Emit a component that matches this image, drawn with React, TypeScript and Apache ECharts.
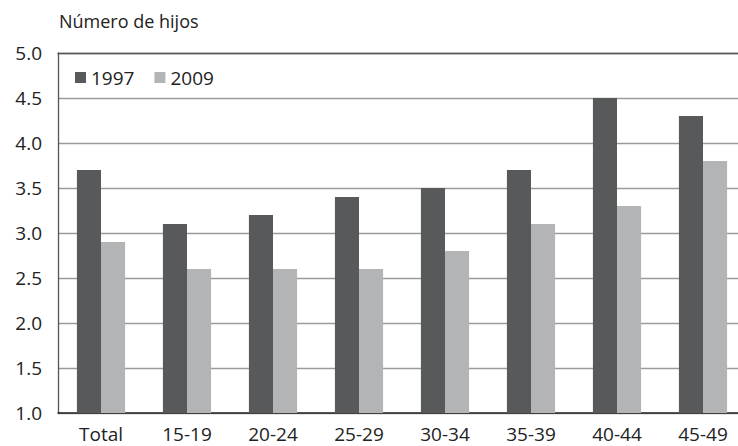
import React, { useEffect, useRef } from "react";
import * as echarts from "echarts";

const categories = ["Total", "15-19", "20-24", "25-29", "30-34", "35-39", "40-44", "45-49"];
const series1997 = [3.7, 3.1, 3.2, 3.4, 3.5, 3.7, 4.5, 4.3];
const series2009 = [2.9, 2.6, 2.6, 2.6, 2.8, 3.1, 3.3, 3.8];
const seriesNames = ["1997", "2009"];
const yTitle = "Número de hijos";

const FONT = "'Open Sans', 'Noto Sans', sans-serif";

export default function App() {
  const ref = useRef<HTMLDivElement>(null);
  useEffect(() => {
    document.body.style.margin = "0";
    const chart = echarts.init(ref.current!, null, { renderer: "svg" });
    chart.setOption({
      animation: false,
      backgroundColor: "#ffffff",
      textStyle: { fontFamily: FONT, color: "#222" },
      grid: { left: 58, right: -8, top: 53, bottom: 33, containLabel: false, outerBoundsMode: "none" },
      legend: {
        left: 70,
        top: 63,
        itemWidth: 11,
        itemHeight: 11,
        itemGap: 20,
        icon: "rect",
        textStyle: { fontFamily: FONT, fontSize: 19, color: "#222" },
        data: seriesNames,
      },
      graphic: [
        {
          type: "text",
          left: 59,
          top: 12,
          style: { text: yTitle, font: `18px ${FONT}`, fill: "#222" },
        },
      ],
      xAxis: [
        {
          type: "category",
          data: categories,
          axisTick: { show: false },
          axisLine: { lineStyle: { color: "#222", width: 1.5 } },
          axisLabel: { fontFamily: FONT, fontSize: 19, color: "#222", margin: 11 },
        },
        {
          type: "category",
          position: "top",
          data: categories,
          axisTick: { show: false },
          axisLabel: { show: false },
          axisLine: { show: true, lineStyle: { color: "#555", width: 1.3 } },
        },
      ],
      yAxis: {
        type: "value",
        min: 1,
        max: 5,
        interval: 0.5,
        axisLine: { show: true, lineStyle: { color: "#555", width: 1.3 } },
        axisTick: { show: false },
        axisLabel: {
          fontFamily: FONT,
          fontSize: 19,
          color: "#222",
          margin: 16,
          formatter: (v: number) => v.toFixed(1),
        },
        splitLine: { lineStyle: { color: "#9a9a9a", width: 1.3 } },
      },
      series: [
        {
          name: seriesNames[0],
          type: "bar",
          data: series1997,
          itemStyle: { color: "#58595b" },
          barGap: "0%",
          barCategoryGap: "44%",
        },
        {
          name: seriesNames[1],
          type: "bar",
          data: series2009,
          itemStyle: { color: "#b3b4b6" },
          barGap: "0%",
          barCategoryGap: "44%",
        },
      ],
    });
    return () => chart.dispose();
  }, []);
  return <div ref={ref} style={{ width: 738, height: 446, position: "absolute", left: 0, top: 0 }} />;
}
